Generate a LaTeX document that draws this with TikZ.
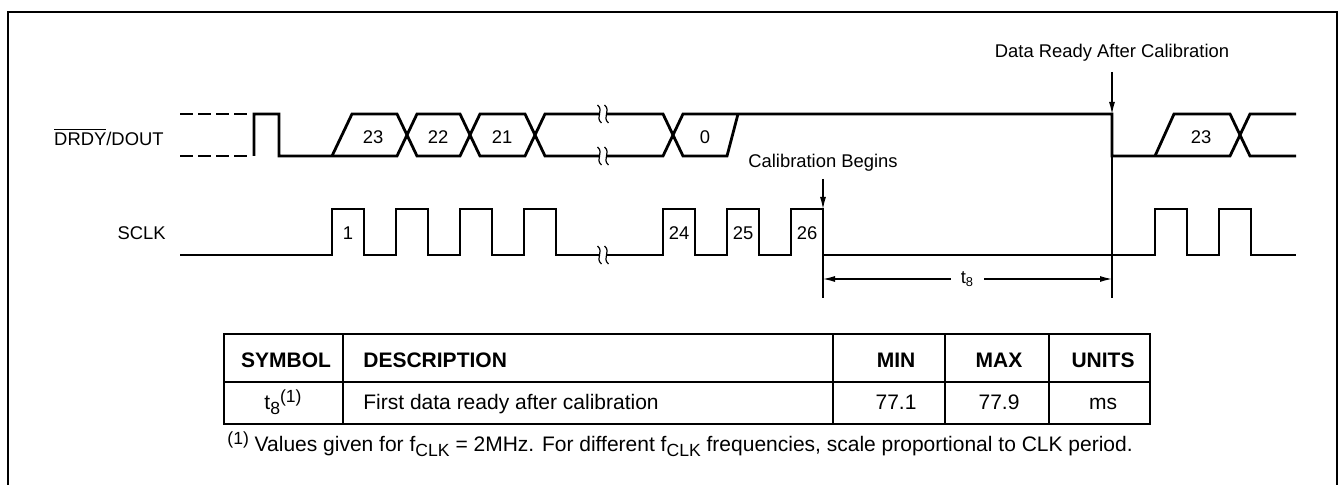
\documentclass[tikz,border=0pt]{standalone}
\usepackage{fontspec}
\setmainfont{Liberation Sans}
\usetikzlibrary{arrows.meta}

\newcommand{\tsub}[1]{\raisebox{-0.45ex}{\fontsize{8.8}{9}\selectfont #1}}
\newcommand{\tsup}[1]{\raisebox{0.7ex}{\fontsize{8.8}{9}\selectfont #1}}

\tikzset{
  sig/.style={line width=1.4pt, line join=miter},
  dimline/.style={line width=0.55pt},
  arr/.style={dimline, -{Latex[length=6pt,width=3pt]}},
  lbl/.style={font=\fontsize{9.2}{11}\selectfont, inner sep=0pt},
  tbl/.style={font=\fontsize{10.5}{12.5}\selectfont, inner sep=0pt},
  hdr/.style={font=\fontsize{10.5}{12.5}\selectfont\bfseries, inner sep=0pt},
  gridline/.style={line width=1.3pt},
  brk/.pic={
    \fill [white] (-3,-4) rectangle (3,4);
    \foreach \d in {-3.5,3.5}
      \draw [line width=0.6pt] (\d-2,-9) .. controls (\d+5,-3) and (\d-5,3) .. (\d+2,9);
  }
}

\begin{document}
\begin{tikzpicture}[x=0.5pt,y=-0.5pt]

\useasboundingbox (0,0) rectangle (1344,485);

\draw [line width=1pt] (8,495) -- (8,12) -- (1337,12) -- (1337,495);

% DRDY/DOUT
\node [lbl,anchor=east] (drdy) at (164,137) {$\overline{\hbox{DRDY}}$/DOUT};

\draw [sig,dash pattern=on 6.5pt off 2.5pt] (180,114) -- (247,114);
\draw [sig,dash pattern=on 6.5pt off 2.5pt] (180,156) -- (247,156);

\draw [sig] (254,156) -- (254,114) -- (279,114) -- (279,156) -- (397,156) -- (417,114)
  -- (460,114) -- (480,156) -- (525,156) -- (545,114) -- (663,114) -- (683,156)
  -- (727,156) -- (738,114);
\draw [sig] (332,156) -- (352,114) -- (397,114) -- (417,156) -- (460,156) -- (480,114)
  -- (525,114) -- (545,156) -- (663,156) -- (683,114) -- (1112,114) -- (1112,156)
  -- (1230,156) -- (1250,114) -- (1296,114);
\draw [sig] (1155,156) -- (1174,114) -- (1230,114) -- (1250,156) -- (1296,156);

\foreach \x/\t [count=\i] in {373/23,438/22,502/21,705/0,1201/23}
  \node [lbl] (bit\i) at (\x,137) {\t};

% SCLK
\node [lbl,anchor=east] (sclk) at (166,233) {SCLK};

\draw [sig] (180,255)
  \foreach \x in {332,396,460,524,663,727,791,1155,1219} {
    -- (\x,255) -- (\x,209) -- (\x+32,209) -- (\x+32,255) }
  -- (1296,255);

\foreach \x/\t in {348/1,679/24,743/25,807/26}
  \node [lbl] (clk\t) at (\x,233) {\t};

\foreach \y in {114,156,255}
  \pic at (603,\y) {brk};

% calibration
\node [lbl] (calbeg) at (823,163) {Calibration Begins};
\node [lbl] (rdy) at (1112,53) {Data Ready After Calibration};

\coordinate (cb) at (823,209);
\coordinate (dr) at (1112,114);
\coordinate (cbl) at (823,298);
\coordinate (drl) at (1112,298);
\coordinate (t8a) at (823,279);
\coordinate (t8b) at (1112,279);

\draw [arr] ([yshift=-3.5pt]calbeg.south) -- (cb);
\draw [arr] ([yshift=-5pt]rdy.south) -- (dr);
\draw [dimline] (cb) -- (cbl);
\draw [dimline] (dr) -- (drl);
\draw [dimline,{Latex[length=6pt,width=3pt]}-{Latex[length=6pt,width=3pt]}] (t8a) -- (t8b)
  node [midway,lbl,fill=white,inner xsep=5pt] (t8) {t\textsubscript{8}};

% table
\draw [gridline] (224,334) rectangle (1150,424);
\draw [gridline] (224,382) -- (1150,382);
\foreach \x in {343,833,945,1049}
  \draw [gridline] (\x,334) -- (\x,424);

\node [hdr,anchor=base] (hsym) at (286,368) {SYMBOL};
\node [hdr,anchor=base west] (hdesc) at (363,368) {DESCRIPTION};
\node [hdr,anchor=base] (hmin) at (896,368) {MIN};
\node [hdr,anchor=base] (hmax) at (999,368) {MAX};
\node [hdr,anchor=base] (hunit) at (1103,368) {UNITS};

\node [tbl,anchor=base] (vsym) at (283,410) {t\tsub{8}\tsup{(1)}};
\node [tbl,anchor=base west] (vdesc) at (363,410) {First data ready after calibration};
\node [tbl,anchor=base] (vmin) at (896,410) {77.1};
\node [tbl,anchor=base] (vmax) at (999,410) {77.9};
\node [tbl,anchor=base] (vunit) at (1103,410) {ms};

\node [tbl,anchor=base west] (note) at (227,452)
  {\tsup{(1)} Values given for f\tsub{CLK} = 2MHz. For different f\tsub{CLK} frequencies, scale proportional to CLK period.};

\end{tikzpicture}
\end{document}
